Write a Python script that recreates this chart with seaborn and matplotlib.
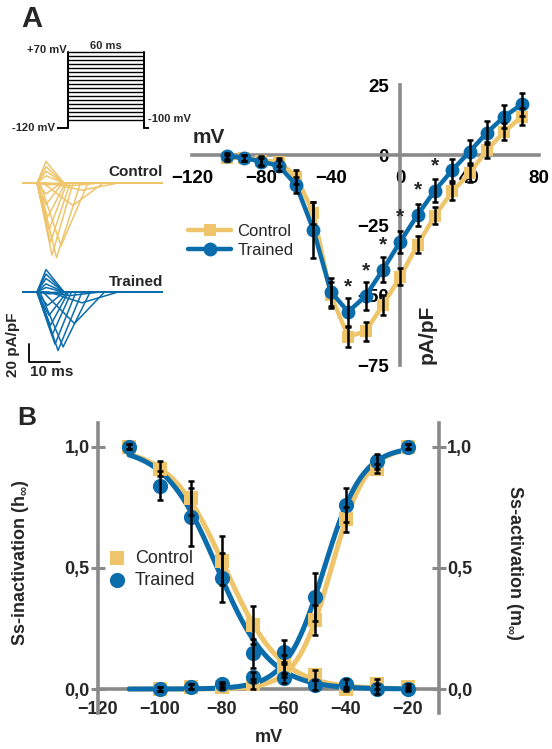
import numpy as np
import pandas as pd
import matplotlib
matplotlib.use("Agg")
import matplotlib.pyplot as plt
import seaborn as sns

# ---------------- data ----------------
# Panel A: I-V relationship (pA/pF)
iv_v = [-100, -90, -80, -70, -60, -50, -40, -30, -20, -10, 0, 10, 20, 30, 40, 50, 60, 70]
iv_ctrl = [-1, -1, -2, -2.4, -7.7, -20.8, -50, -64.9, -63, -53.6, -43.5, -32, -21.7, -13, -6.5, 1.8, 8.3, 13.7]
iv_ctrl_err = [1, 1, 1.5, 1.5, 2.5, 4, 4.5, 3.5, 3.5, 3.5, 3, 3, 3, 3, 3, 3, 3, 3]
iv_tr = [-0.4, -1, -2.4, -3.8, -10.7, -26.8, -48.8, -56, -50.4, -41, -31, -21.4, -12.7, -5.4, 1.2, 8, 13.7, 18.1]
iv_tr_err = [1, 1, 1.5, 2, 3, 10, 5, 5, 5, 4.5, 4, 4, 4, 4, 4, 4, 4, 4]
sig_v = [-30, -20, -10, 0, 10, 20]

# Inset: representative current traces (ms, pA/pF)
trace_v = iv_v
ctrl_amp = [-1, -1, -2, -3, -8, -25, -70, -83, -80, -66, -52, -38, -24, -12, 8, 13, 18, 24]
ctrl_tpk = [8, 8, 9, 16, 20, 17, 13, 11.5, 10, 9.5, 9, 8.5, 8, 8, 8, 8, 8, 8]
ctrl_ton = [5, 5, 5, 8, 9, 7, 6, 5.5, 5, 5, 5, 5, 5, 5, 5, 5, 5, 5]
ctrl_dec = [6, 6, 8, 10, 12, 10, 9, 8, 7, 6.5, 6, 6, 5.5, 5, 6, 6, 6, 6]
tr_amp = [-1, -1, -2, -4, -12, -35, -61, -65, -58, -48, -37, -26, -15, 5, 9, 15, 20, 25]
tr_tpk = [8, 8, 9, 16, 20, 17.5, 13.7, 12, 11, 10, 9.5, 9, 8.5, 8, 8, 8, 8, 8]
tr_ton = [5, 5, 5, 8, 9, 7, 6, 5.5, 5, 5, 5, 5, 5, 5, 5, 5, 5, 5]
tr_dec = [6, 6, 8, 10, 12, 10, 9, 8, 7, 6.5, 6, 6, 5.5, 6, 6, 6, 6, 6]
trace_len = 47

# Voltage protocol
prot_hold = -120
prot_steps = list(range(-100, 71, 10))
prot_dur = 60

# Panel B: steady-state inactivation / activation
vb_inact = [-110, -100, -90, -80, -70, -60, -50, -40, -30, -20]
h_ctrl = [1.0, 0.91, 0.79, 0.53, 0.264, 0.10, 0.058, 0.0, 0.02, 0.01]
h_ctrl_err = [0.01, 0.03, 0.07, 0.10, 0.08, 0.04, 0.02, 0.01, 0.02, 0.01]
h_tr = [1.0, 0.84, 0.71, 0.46, 0.147, 0.045, 0.017, 0.02, 0.0, 0.0]
h_tr_err = [0.01, 0.06, 0.12, 0.10, 0.06, 0.02, 0.02, 0.02, 0.02, 0.01]
vb_act = [-100, -90, -80, -70, -60, -50, -40, -30, -20]
m_ctrl = [0.0, 0.01, 0.01, 0.02, 0.08, 0.285, 0.70, 0.91, 1.0]
m_ctrl_err = [0.01, 0.01, 0.01, 0.02, 0.03, 0.06, 0.05, 0.02, 0.01]
m_tr = [0.0, 0.01, 0.02, 0.05, 0.154, 0.38, 0.76, 0.94, 1.0]
m_tr_err = [0.01, 0.01, 0.01, 0.02, 0.05, 0.10, 0.07, 0.03, 0.01]
# Boltzmann fit parameters (V1/2, k)
fit_h_ctrl = (-79.0, 9.0)
fit_h_tr = (-81.5, 8.5)
fit_m_ctrl = (-44.7, 5.6)
fit_m_tr = (-47.0, 6.1)

# ---------------- style ----------------
sns.set_style("white")
plt.rcParams["font.family"] = ["Liberation Sans", "DejaVu Sans"]
plt.rcParams["mathtext.fontset"] = "custom"
plt.rcParams["mathtext.rm"] = "Liberation Sans:bold"
plt.rcParams["mathtext.bf"] = "Liberation Sans:bold"

GOLD = "#EEC56B"
BLUE = "#0B6CAB"
GREY = "#8A8A8A"

W, H = 552, 749
fig = plt.figure(figsize=(W / 100, H / 100), dpi=100)


def px_axes(l, t, r, b):
    return fig.add_axes([l / W, 1 - b / H, (r - l) / W, (b - t) / H])


def ftext(x, y, s, **kw):
    fig.text(x / W, 1 - y / H, s, **kw)


# ---------------- Panel A: protocol ----------------
axp = px_axes(57, 45, 149, 135)
axp.set_xlim(-9, 64)
axp.set_ylim(-137.5, 87.5)
axp.axis("off")
lw_p = 1.4
axp.plot([-9, 0], [prot_hold, prot_hold], color="black", lw=lw_p)
axp.plot([0, 0], [prot_hold, max(prot_steps)], color="black", lw=lw_p)
axp.plot([prot_dur, prot_dur], [max(prot_steps), prot_hold], color="black", lw=lw_p)
axp.plot([prot_dur, 64], [prot_hold, prot_hold], color="black", lw=lw_p)
for v in prot_steps:
    axp.plot([0, prot_dur], [v, v], color="black", lw=1.0)
axp.text(-1.5, 75, "+70 mV", ha="right", va="center", fontsize=8, fontweight="bold", clip_on=False)
axp.text(30, 86, "60 ms", ha="center", va="center", fontsize=8, fontweight="bold", clip_on=False)
axp.text(-10.5, -120, "-120 mV", ha="right", va="center", fontsize=8, fontweight="bold", clip_on=False)
axp.text(63, -97, "-100 mV", ha="left", va="center", fontsize=8, fontweight="bold", clip_on=False)

# ---------------- Panel A: traces ----------------
axt = px_axes(22, 150, 163, 365)
axt.set_xlim(0, trace_len)
axt.set_ylim(-202.2, 36.7)
axt.axis("off")
tr_base = -121.1
for amp, tpk, ton, dec in zip(ctrl_amp, ctrl_tpk, ctrl_ton, ctrl_dec):
    axt.plot([0, ton, tpk, tpk + dec, trace_len], [0, 0, amp, 0, 0], color=GOLD, lw=1.1)
for amp, tpk, ton, dec in zip(tr_amp, tr_tpk, tr_ton, tr_dec):
    axt.plot([0, ton, tpk, tpk + dec, trace_len],
             [tr_base, tr_base, tr_base + amp, tr_base, tr_base], color=BLUE, lw=1.1)
axt.text(trace_len, 12, "Control", ha="right", va="center", fontsize=11, fontweight="bold")
axt.text(trace_len, -110, "Trained", ha="right", va="center", fontsize=11, fontweight="bold")
axt.plot([2.5, 2.5, 12.5], [-178.9, -198.6, -198.6], color="black", lw=1.3, clip_on=False)
axt.text(-3, -180, "20 pA/pF", rotation=90, ha="center", va="center", fontsize=11,
         fontweight="bold", clip_on=False)
axt.text(10, -210, "10 ms", ha="center", va="center", fontsize=11, fontweight="bold", clip_on=False)

# ---------------- Panel A: I-V ----------------
ax = px_axes(192, 85, 539, 365)
ax.set_facecolor("none")
ax.set_xlim(-120, 80)
ax.set_ylim(-75, 25)
for s in ["top", "right"]:
    ax.spines[s].set_visible(False)
for s in ["left", "bottom"]:
    ax.spines[s].set_position(("data", 0))
    ax.spines[s].set_color(GREY)
    ax.spines[s].set_linewidth(2.6)
ax.set_xticks([-120, -80, -40, 0, 40, 80])
ax.set_yticks([-75, -50, -25, 0, 25])
ax.tick_params(axis="both", direction="inout", length=10, width=2.2, color=GREY,
               labelsize=13.5, labelcolor="black")
ax.tick_params(axis="x", pad=6)
ax.tick_params(axis="y", pad=3)
for lbl in ax.get_xticklabels() + ax.get_yticklabels():
    lbl.set_fontweight("bold")

ax.errorbar(iv_v, iv_ctrl, yerr=iv_ctrl_err, fmt="none", ecolor="black",
            elinewidth=1.8, capsize=2.5, capthick=1.8, zorder=6)
ax.errorbar(iv_v, iv_tr, yerr=iv_tr_err, fmt="none", ecolor="black",
            elinewidth=1.8, capsize=2.5, capthick=1.8, zorder=6)
sns.lineplot(x=iv_v, y=iv_ctrl, color=GOLD, marker="s", markersize=8,
             markeredgewidth=0, linewidth=3.2, label="Control", ax=ax, zorder=4)
sns.lineplot(x=iv_v, y=iv_tr, color=BLUE, marker="o", markersize=10,
             markeredgewidth=0, linewidth=3.2, label="Trained", ax=ax, zorder=5)
for v in sig_v:
    y = iv_tr[iv_v.index(v)]
    ax.text(v, y + 7.0, "*", ha="center", va="baseline", fontsize=15,
            fontweight="bold", zorder=7)
ax.text(-110.5, 6.4, "mV", ha="center", va="center", fontsize=15, fontweight="bold")
ax.text(15.5, -64, "pA/pF", rotation=90, ha="center", va="center", fontsize=15,
        fontweight="bold")
ax.set_xlabel("")
ax.set_ylabel("")
ax.legend(loc="upper left", bbox_to_anchor=(188 / W, 1 - 224 / H),
          bbox_transform=fig.transFigure, frameon=False, fontsize=12,
          handlelength=2.6, handletextpad=0.35, labelspacing=0.25,
          borderpad=0, borderaxespad=0)

# ---------------- Panel B ----------------
axb = px_axes(98, 423, 439, 713)
axb.set_facecolor("none")
axb.set_xlim(-120, -10)
axb.set_ylim(-0.099, 1.098)
axb.spines["top"].set_visible(False)
axb.spines["bottom"].set_position(("data", 0))
for s in ["left", "right", "bottom"]:
    axb.spines[s].set_color(GREY)
    axb.spines[s].set_linewidth(2.6)
axb.set_xticks([-120, -100, -80, -60, -40, -20])
axb.set_yticks([0, 0.5, 1.0])
axb.set_yticklabels(["0,0", "0,5", "1,0"])
axb.tick_params(axis="x", length=0, pad=8.5, labelsize=13)
axb.tick_params(axis="y", direction="inout", length=10, width=2.2, color=GREY,
                left=True, right=True, labelleft=True, labelright=True,
                labelsize=13, pad=1)
for lbl in axb.get_xticklabels() + axb.get_yticklabels():
    lbl.set_fontweight("bold")
for t in axb.yaxis.get_major_ticks():
    t.label2.set_fontweight("bold")

v_fit = np.linspace(-110, -20, 300)
fits = [
    (1 / (1 + np.exp((v_fit - fit_h_ctrl[0]) / fit_h_ctrl[1])), GOLD, 3),
    (1 / (1 + np.exp((fit_m_ctrl[0] - v_fit) / fit_m_ctrl[1])), GOLD, 3),
    (1 / (1 + np.exp((v_fit - fit_h_tr[0]) / fit_h_tr[1])), BLUE, 3.1),
    (1 / (1 + np.exp((fit_m_tr[0] - v_fit) / fit_m_tr[1])), BLUE, 3.1),
]
for yv, c, z in fits:
    sns.lineplot(x=v_fit, y=yv, color=c, linewidth=3.6, ax=axb, zorder=z)

sns.scatterplot(x=vb_inact, y=h_ctrl, marker="s", s=90, color=GOLD, linewidth=0,
                ax=axb, zorder=4, label="Control")
sns.scatterplot(x=vb_act, y=m_ctrl, marker="s", s=90, color=GOLD, linewidth=0,
                ax=axb, zorder=4)
sns.scatterplot(x=vb_inact, y=h_tr, marker="o", s=120, color=BLUE, linewidth=0,
                ax=axb, zorder=5, label="Trained")
sns.scatterplot(x=vb_act, y=m_tr, marker="o", s=120, color=BLUE, linewidth=0,
                ax=axb, zorder=5)
for xs, ys, es in [(vb_inact, h_ctrl, h_ctrl_err), (vb_act, m_ctrl, m_ctrl_err),
                   (vb_inact, h_tr, h_tr_err), (vb_act, m_tr, m_tr_err)]:
    axb.errorbar(xs, ys, yerr=es, fmt="none", ecolor="black", elinewidth=1.8,
                 capsize=2.5, capthick=1.8, zorder=6)
axb.set_xlabel("")
axb.set_ylabel("")
axb.legend(loc="upper left", bbox_to_anchor=(108 / W, 1 - 550 / H),
           bbox_transform=fig.transFigure, frameon=False, fontsize=13,
           handletextpad=0.5, labelspacing=0.25, borderpad=0, borderaxespad=0,
           handlelength=1.0)

ftext(21, 563, r"Ss-inactivation (h$_\infty$)", rotation=90, ha="center", va="center",
      fontsize=13, fontweight="bold")
ftext(514, 563, r"Ss-activation (m$_\infty$)", rotation=-90, ha="center", va="center",
      fontsize=13, fontweight="bold")
ftext(269, 738, "mV", ha="center", va="center", fontsize=13, fontweight="bold")

# panel letters
ftext(21, 19, "A", ha="left", va="center", fontsize=21, fontweight="bold")
ftext(17, 418, "B", ha="left", va="center", fontsize=19, fontweight="bold")

fig.savefig("out.png", dpi=100)
